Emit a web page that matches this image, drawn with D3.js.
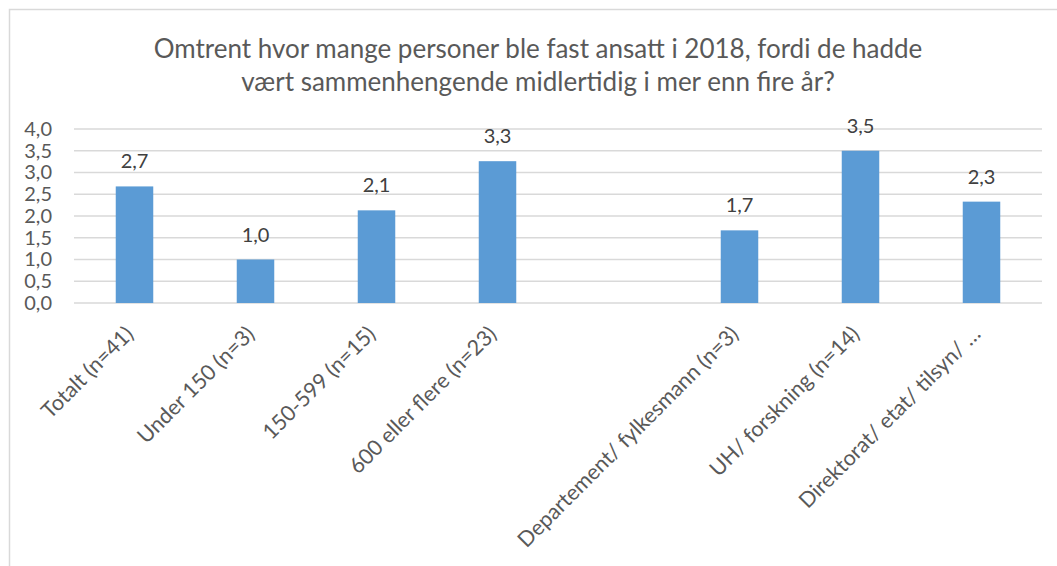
<!DOCTYPE html>
<html>
<head>
<meta charset="utf-8">
<script src="https://cdn.jsdelivr.net/npm/d3@7"></script>
<style>
body { margin: 0; background: #ffffff; }
svg { display: block; font-family: Lato, "Open Sans", sans-serif; }
</style>
</head>
<body>
<svg></svg>
<script>
var title = ["Omtrent hvor mange personer ble fast ansatt i 2018, fordi de hadde",
             "vært sammenhengende midlertidig i mer enn fire år?"]

var categories = ["Totalt (n=41)", "Under 150 (n=3)", "150-599 (n=15)", "600 eller flere (n=23)",
                  " ", "Departement/ fylkesmann (n=3)", "UH/ forskning (n=14)", "Direktorat/ etat/ tilsyn/ \u2026"]

var values = [2.68, 1.0, 2.13, 3.26, null, 1.67, 3.5, 2.33]

var yTicks = [0, 0.5, 1, 1.5, 2, 2.5, 3, 3.5, 4]

var screen = {width: 1057, height: 566}
var plot = {left: 74, right: 1042, top: 129, bottom: 303}

var svg = d3.select("svg")
    .attr("width", screen.width)
    .attr("height", screen.height)

// chart frame (only top and left edges show in the picture)
svg.append("path")
    .attr("d", "M9.5," + screen.height + "V9.5H" + screen.width)
    .attr("fill", "none")
    .attr("stroke", "#d9d9d9")
    .attr("stroke-width", 1.5)

svg.selectAll(".title")
    .data(title)
    .enter()
    .append("text")
    .attr("class", "title")
    .attr("x", 538)
    .attr("y", function(d, i) {return 58 + i * 33})
    .attr("text-anchor", "middle")
    .attr("font-size", 26)
    .attr("fill", "#595959")
    .text(function(d) {return d})

var xscale = d3.scaleBand()
    .domain(categories)
    .range([plot.left, plot.right])
    .paddingInner(0.69)
    .paddingOuter(0.345)

var yscale = d3.scaleLinear()
    .domain([0, 4])
    .range([plot.bottom, plot.top])

var fmt = function(v) {return d3.format(".1f")(v).replace(".", ",")}

// gridlines
svg.append("g")
    .selectAll("line")
    .data(yTicks)
    .enter()
    .append("line")
    .attr("x1", plot.left)
    .attr("x2", plot.right)
    .attr("y1", function(t) {return yscale(t)})
    .attr("y2", function(t) {return yscale(t)})
    .attr("stroke", "#d9d9d9")
    .attr("stroke-width", 1.5)

var yAxis = svg.append("g")
    .attr("transform", "translate(" + (plot.left - 22) + ",0)")
    .call(d3.axisLeft(yscale).tickValues(yTicks).tickSize(0).tickPadding(0).tickFormat(fmt))

yAxis.select(".domain").remove()
yAxis.selectAll("text")
    .attr("font-size", 20)
    .attr("font-family", "Lato, 'Open Sans', sans-serif")
    .attr("fill", "#595959")

svg.append("g")
    .selectAll("rect")
    .data(values.map(function(v, i) {return {cat: categories[i], v: v}})
              .filter(function(d) {return d.v !== null}))
    .enter()
    .append("rect")
    .attr("x", function(d) {return xscale(d.cat)})
    .attr("width", xscale.bandwidth())
    .attr("y", function(d) {return yscale(d.v)})
    .attr("height", function(d) {return yscale(0) - yscale(d.v)})
    .attr("fill", "#5b9bd5")

svg.append("g")
    .selectAll("text")
    .data(values.map(function(v, i) {return {cat: categories[i], v: v}})
              .filter(function(d) {return d.v !== null}))
    .enter()
    .append("text")
    .attr("x", function(d) {return xscale(d.cat) + xscale.bandwidth() / 2})
    .attr("y", function(d) {return yscale(d.v) - 18})
    .attr("text-anchor", "middle")
    .attr("font-size", 20)
    .attr("fill", "#404040")
    .text(function(d) {return fmt(d.v)})

var xAxis = svg.append("g")
    .attr("transform", "translate(0," + plot.bottom + ")")
    .call(d3.axisBottom(xscale).tickSize(0).tickPadding(0))

xAxis.select(".domain").remove()
xAxis.selectAll("text")
    .attr("font-size", 21.5)
    .attr("font-family", "Lato, 'Open Sans', sans-serif")
    .attr("fill", "#595959")
    .attr("text-anchor", "end")
    .attr("dy", "0.35em")
    .attr("y", 0)
    .attr("transform", "translate(-5,27) rotate(-45)")
</script>
</body>
</html>
